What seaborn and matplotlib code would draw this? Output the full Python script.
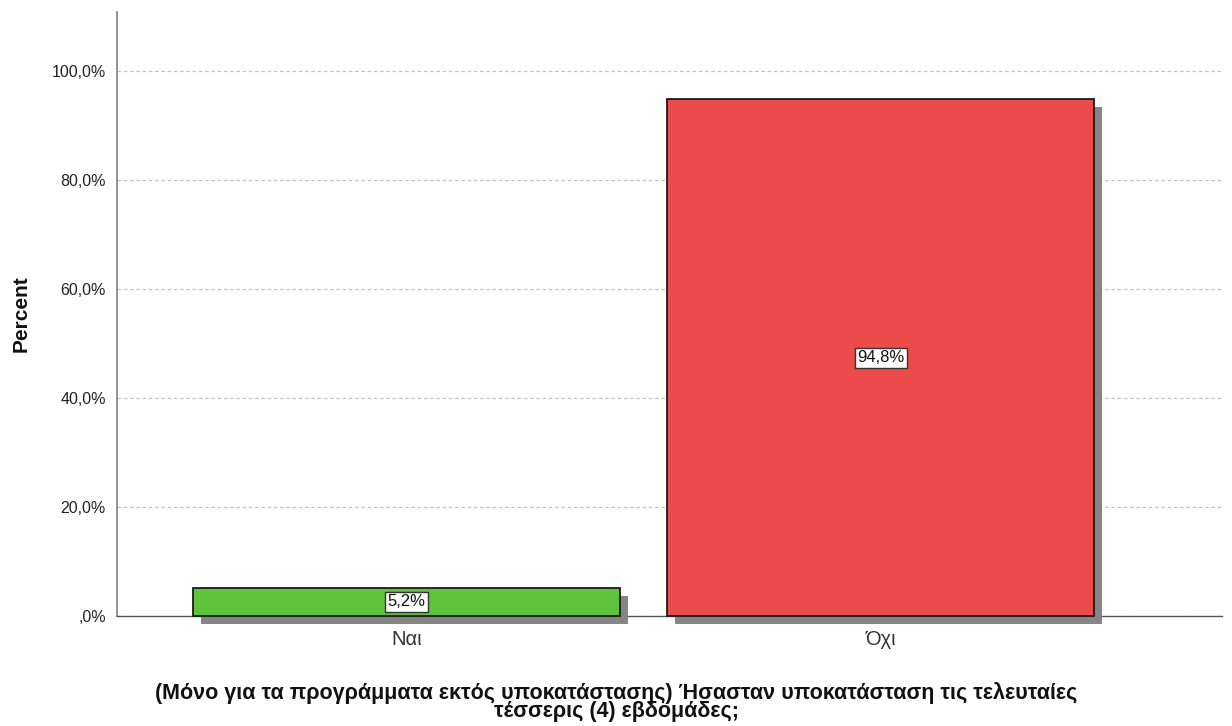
import matplotlib
matplotlib.use("Agg")
import matplotlib.pyplot as plt
import matplotlib.patheffects as pe
from matplotlib.ticker import FuncFormatter
import pandas as pd
import seaborn as sns

# values
categories = ["Ναι", "Όχι"]
percents = [5.2, 94.8]
bar_colors = ["#5ec23a", "#ec4b4c"]
yticks = [0, 20, 40, 60, 80, 100]

xlabel = ("(Μόνο για τα προγράμματα εκτός υποκατάστασης) Ήσασταν υποκατάσταση τις τελευταίες\n"
          "τέσσερις (4) εβδομάδες;")

df = pd.DataFrame({"answer": categories, "percent": percents})

sns.set_style("white")
plt.rcParams["font.family"] = ["Liberation Sans", "DejaVu Sans"]


def pct(v, _):
    s = f"{v:.1f}%".replace(".", ",")
    return s[1:] if v == 0 else s  # SPSS writes ,0%


fig = plt.figure(figsize=(12.32, 7.26), dpi=100)
ax = fig.add_axes([0.095, 0.1515, 0.897, 0.832])

sns.barplot(data=df, x="answer", y="percent", hue="answer", palette=bar_colors, saturation=1,
            width=0.9, edgecolor="#1a1a1a", linewidth=1.3, legend=False, ax=ax, zorder=3)

# drop shadow like SPSS output
for p in ax.patches:
    p.set_clip_on(False)
    p.set_path_effects([pe.SimplePatchShadow(offset=(5.8, -5.8), shadow_rgbFace="#858585", alpha=1.0),
                        pe.Normal()])

# value labels in white boxes
for i, v in enumerate(percents):
    ax.text(i, v / 2, f"{v:.1f}%".replace(".", ","), ha="center", va="center",
            fontsize=12, color="#111111", zorder=5,
            bbox=dict(boxstyle="square,pad=0.15", fc="white", ec="#333333", lw=1))

ax.set_ylim(0, 110.8)
ax.set_xlim(-0.61, 1.72)
ax.set_yticks(yticks)
ax.yaxis.set_major_formatter(FuncFormatter(pct))
ax.grid(axis="y", color="#c4c4c4", linestyle=(0, (3, 2)), linewidth=0.9, zorder=0)
ax.set_axisbelow(True)

ax.tick_params(axis="y", length=0, labelsize=11.5, labelcolor="#222222", pad=8)
ax.tick_params(axis="x", length=0, labelsize=14.5, labelcolor="#333333", pad=10)

for s in ["top", "right"]:
    ax.spines[s].set_visible(False)
ax.spines["left"].set_color("#8a8a8a")
ax.spines["left"].set_linewidth(1.3)
ax.spines["bottom"].set_color("#555555")
ax.spines["bottom"].set_linewidth(1)

ax.set_ylabel("Percent", fontsize=15, fontweight="bold", labelpad=15, color="#111111")
ax.set_xlabel(xlabel, fontsize=15.5, fontweight="bold", linespacing=0.82, color="#111111")
ax.xaxis.set_label_coords(0.4516, -0.143)
ax.xaxis.label.set_va("center")

fig.savefig("out.png", dpi=100, facecolor="white")
